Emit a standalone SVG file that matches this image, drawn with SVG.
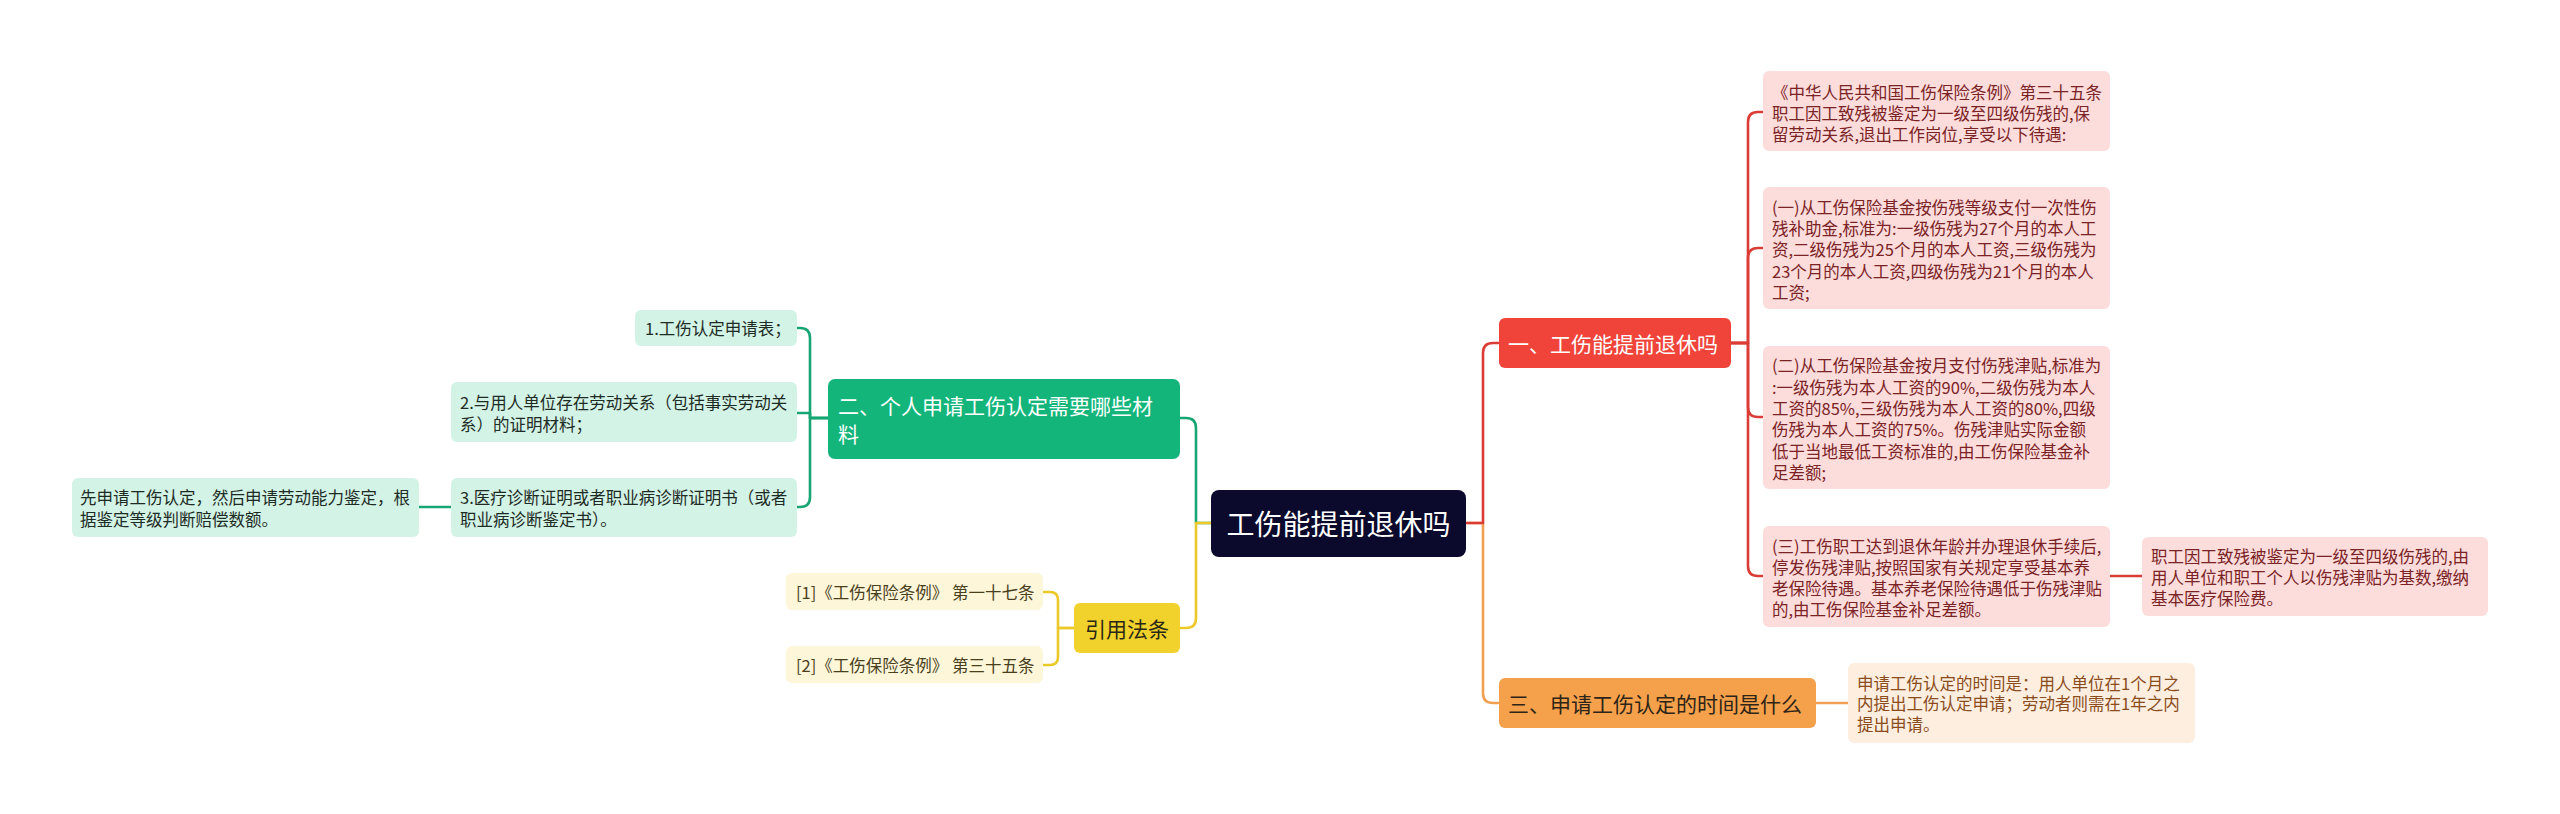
<svg xmlns="http://www.w3.org/2000/svg" width="2560" height="814" viewBox="0 0 2560 814">
<style>
text{font-family:"Noto Sans CJK SC","Noto Sans",sans-serif;dominant-baseline:central}
.c{fill:none;stroke-width:2.6;stroke-linecap:round;stroke-linejoin:round}
.cg{stroke:#17a673}.cy{stroke:#ecc928}.cr{stroke:#dc3c36}.co{stroke:#f0a050}
.t16{font-size:16.5px}
.mint{fill:#d2f3e5}.mintt{fill:#1e2b25}
.cream{fill:#fdf6d9}.creamt{fill:#4a3f1c}
.pink{fill:#fddcdc}.pinkt{fill:#7a2325}
.peach{fill:#fdeedf}.peacht{fill:#8a4c1c}
</style>
<rect width="2560" height="814" fill="#ffffff"/>
<g id="connectors">
<path class="c cg" d="M1211,523 H1196 V428 Q1196,418 1186,418 H1180"/>
<path class="c cy" d="M1211,523 H1196 V618 Q1196,628 1186,628 H1180"/>
<path class="c cg" d="M828,418 H810 V338 Q810,328 800,328 H797"/>
<path class="c cg" d="M828,418 H810 V413 H797"/>
<path class="c cg" d="M828,418 H810 V497 Q810,507 800,507 H797"/>
<path class="c cg" d="M451,507 H419"/>
<path class="c cy" d="M1074,628 H1058 V600 Q1058,592 1050,592 H1043"/>
<path class="c cy" d="M1074,628 H1058 V657 Q1058,665 1050,665 H1043"/>
<path class="c co" d="M1467,523 H1483 V693 Q1483,703 1493,703 H1499"/>
<path class="c cr" d="M1467,523 H1483 V353 Q1483,343 1493,343 H1499"/>
<path class="c cr" d="M1731,343 H1748 V122 Q1748,112 1758,112 H1763"/>
<path class="c cr" d="M1731,343 H1748 V258 Q1748,248 1758,248 H1763"/>
<path class="c cr" d="M1731,343 H1748 V407 Q1748,417 1758,417 H1763"/>
<path class="c cr" d="M1731,343 H1748 V566 Q1748,576 1758,576 H1763"/>
<path class="c cr" d="M2110,576 H2142"/>
<path class="c co" d="M1816,703 H1848"/>
</g>
<g id="root">
<rect x="1211" y="490" width="255" height="67" rx="8" fill="#0b0a2c"/>
<text x="1338.5" y="523" font-size="28" fill="#ffffff" text-anchor="middle">工伤能提前退休吗</text>
</g>
<g id="n-green">
<rect x="828" y="379" width="352" height="80" rx="7" fill="#13b57b"/>
<text x="838" y="405" font-size="21" fill="#ffffff">二、个人申请工伤认定需要哪些材</text>
<text x="838" y="433" font-size="21" fill="#ffffff">料</text>
</g>
<g id="g1">
<rect class="mint" x="635" y="310" width="162" height="36" rx="6"/>
<text class="t16 mintt" x="645" y="328">1.工伤认定申请表；</text>
</g>
<g id="g2">
<rect class="mint" x="451" y="382" width="346" height="60" rx="6"/>
<text class="t16 mintt" x="460" y="402">2.与用人单位存在劳动关系（包括事实劳动关</text>
<text class="t16 mintt" x="460" y="424">系）的证明材料；</text>
</g>
<g id="g3">
<rect class="mint" x="451" y="478" width="346" height="59" rx="6"/>
<text class="t16 mintt" x="460" y="497">3.医疗诊断证明或者职业病诊断证明书（或者</text>
<text class="t16 mintt" x="460" y="519">职业病诊断鉴定书）。</text>
</g>
<g id="g3a">
<rect class="mint" x="72" y="478" width="347" height="59" rx="6"/>
<text class="t16 mintt" x="80" y="497">先申请工伤认定，然后申请劳动能力鉴定，根</text>
<text class="t16 mintt" x="80" y="519">据鉴定等级判断赔偿数额。</text>
</g>
<g id="n-yellow">
<rect x="1074" y="603" width="106" height="50" rx="6" fill="#f1d12b"/>
<text x="1127" y="628" font-size="21" fill="#2b2716" text-anchor="middle">引用法条</text>
</g>
<g id="y1">
<rect class="cream" x="786" y="573" width="257" height="37" rx="6"/>
<text class="t16 creamt" x="796" y="592">[1]《工伤保险条例》 第一十七条</text>
</g>
<g id="y2">
<rect class="cream" x="786" y="646" width="257" height="37" rx="6"/>
<text class="t16 creamt" x="796" y="665">[2]《工伤保险条例》 第三十五条</text>
</g>
<g id="n-red">
<rect x="1499" y="318" width="232" height="50" rx="6" fill="#f0443a"/>
<text x="1508" y="343" font-size="21" fill="#ffffff">一、工伤能提前退休吗</text>
</g>
<g id="r1">
<rect class="pink" x="1763" y="71" width="347" height="80" rx="6"/>
<text class="t16 pinkt" x="1772" y="92">《中华人民共和国工伤保险条例》第三十五条</text>
<text class="t16 pinkt" x="1772" y="113">职工因工致残被鉴定为一级至四级伤残的,保</text>
<text class="t16 pinkt" x="1772" y="134">留劳动关系,退出工作岗位,享受以下待遇:</text>
</g>
<g id="r2">
<rect class="pink" x="1763" y="187" width="347" height="122" rx="6"/>
<text class="t16 pinkt" x="1772" y="207">(一)从工伤保险基金按伤残等级支付一次性伤</text>
<text class="t16 pinkt" x="1772" y="228">残补助金,标准为:一级伤残为27个月的本人工</text>
<text class="t16 pinkt" x="1772" y="249">资,二级伤残为25个月的本人工资,三级伤残为</text>
<text class="t16 pinkt" x="1772" y="271">23个月的本人工资,四级伤残为21个月的本人</text>
<text class="t16 pinkt" x="1772" y="292">工资;</text>
</g>
<g id="r3">
<rect class="pink" x="1763" y="346" width="347" height="143" rx="6"/>
<text class="t16 pinkt" x="1772" y="365">(二)从工伤保险基金按月支付伤残津贴,标准为</text>
<text class="t16 pinkt" x="1772" y="387">:一级伤残为本人工资的90%,二级伤残为本人</text>
<text class="t16 pinkt" x="1772" y="408">工资的85%,三级伤残为本人工资的80%,四级</text>
<text class="t16 pinkt" x="1772" y="429">伤残为本人工资的75%。伤残津贴实际金额</text>
<text class="t16 pinkt" x="1772" y="451">低于当地最低工资标准的,由工伤保险基金补</text>
<text class="t16 pinkt" x="1772" y="472">足差额;</text>
</g>
<g id="r4">
<rect class="pink" x="1763" y="526" width="347" height="101" rx="6"/>
<text class="t16 pinkt" x="1772" y="546">(三)工伤职工达到退休年龄并办理退休手续后,</text>
<text class="t16 pinkt" x="1772" y="567">停发伤残津贴,按照国家有关规定享受基本养</text>
<text class="t16 pinkt" x="1772" y="588">老保险待遇。基本养老保险待遇低于伤残津贴</text>
<text class="t16 pinkt" x="1772" y="609">的,由工伤保险基金补足差额。</text>
</g>
<g id="r4a">
<rect class="pink" x="2142" y="537" width="346" height="79" rx="6"/>
<text class="t16 pinkt" x="2151" y="556">职工因工致残被鉴定为一级至四级伤残的,由</text>
<text class="t16 pinkt" x="2151" y="577">用人单位和职工个人以伤残津贴为基数,缴纳</text>
<text class="t16 pinkt" x="2151" y="598">基本医疗保险费。</text>
</g>
<g id="n-orange">
<rect x="1499" y="678" width="317" height="50" rx="6" fill="#f5a14b"/>
<text x="1508" y="703" font-size="21" fill="#2e2418">三、申请工伤认定的时间是什么</text>
</g>
<g id="o1">
<rect class="peach" x="1848" y="663" width="347" height="80" rx="6"/>
<text class="t16 peacht" x="1857" y="683">申请工伤认定的时间是：用人单位在1个月之</text>
<text class="t16 peacht" x="1857" y="703">内提出工伤认定申请；劳动者则需在1年之内</text>
<text class="t16 peacht" x="1857" y="724">提出申请。</text>
</g>
</svg>
